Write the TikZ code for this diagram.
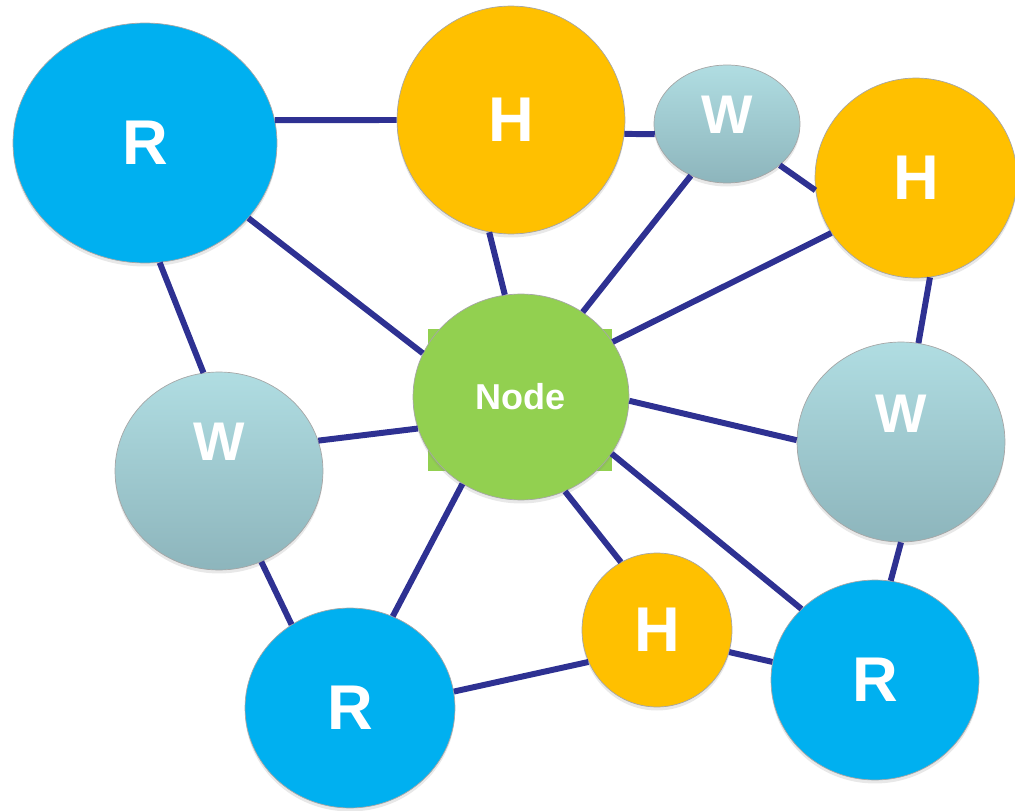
\documentclass[tikz,border=0pt]{standalone}
\usepackage{fontspec}
\setmainfont{Liberation Sans}
\usetikzlibrary{shapes.geometric,shadows}
\definecolor{rblue}{RGB}{0,176,240}
\definecolor{horange}{RGB}{255,192,0}
\definecolor{ngreen}{RGB}{146,208,80}
\definecolor{wtop}{RGB}{176,221,226}
\definecolor{wbot}{RGB}{141,181,188}
\definecolor{linkblue}{RGB}{46,49,146}
\begin{document}
\begin{tikzpicture}[x=0.02cm,y=-0.02cm,
	bub/.style={ellipse,inner sep=0pt,draw=black!35,line width=0.4pt,text=white,font=\bfseries\fontsize{36}{36}\selectfont,
		drop shadow={opacity=0.18,shadow xshift=0pt,shadow yshift=-2pt}},
	rbub/.style={bub,fill=rblue},
	hbub/.style={bub,fill=horange},
	wbub/.style={bub,top color=wtop,bottom color=wbot},
	wtxt/.style={text=white,font=\bfseries\fontsize{31}{31}\selectfont,inner sep=0pt},
	link/.style={draw=linkblue,line width=3.4pt}]
\useasboundingbox (0,0) rectangle (1015,811);
\node[rbub,minimum width=5.28cm,minimum height=4.8cm] (r1) at (145,143) {R};
\node[hbub,minimum width=4.56cm,minimum height=4.56cm] (h1) at (511,120) {H};
\node[wbub,minimum width=2.92cm,minimum height=2.36cm,label={[wtxt,yshift=0.18cm]center:W}] (w1) at (727,124) {};
\node[hbub,minimum width=4.04cm,minimum height=4cm] (h2) at (916,178) {H};
\node[fill=ngreen,minimum width=3.68cm,minimum height=2.86cm] (ndsq) at (520,400) {};
\node[bub,fill=ngreen,minimum width=4.32cm,minimum height=4.12cm,font=\bfseries\fontsize{20.5}{20.5}\selectfont] (nd) at (521,397) {Node};
\node[wbub,minimum width=4.16cm,minimum height=3.96cm,label={[wtxt,yshift=0.58cm]center:W}] (w2) at (219,471) {};
\node[wbub,minimum width=4.16cm,minimum height=4cm,label={[wtxt,yshift=0.56cm]center:W}] (w3) at (901,442) {};
\node[hbub,minimum width=3cm,minimum height=3.08cm] (h3) at (657,630) {H};
\node[rbub,minimum width=4.2cm,minimum height=4cm] (r2) at (350,708) {R};
\node[rbub,minimum width=4.16cm,minimum height=4cm] (r3) at (875,680) {R};
\foreach \a/\b in {r1.10/h1.180, h1.-7/w1.188, w1.-38/h2.187, r1.-36/nd.156, h1.-101/nd.99,
	w1.-125/nd.54, h2.-147/nd.31, r1.-83/w2.99, w2.17/nd.197, nd.-2/w3.179, h2.-82/w3.80,
	w3.-90/r3.81, nd.-124/r2.65, nd.-65/h3.118, nd.-32/r3.136, w2.-65/r2.125, r2.9/h3.205, h3.-17/r3.170}
	\draw[link] (\a) -- (\b);
\end{tikzpicture}
\end{document}
